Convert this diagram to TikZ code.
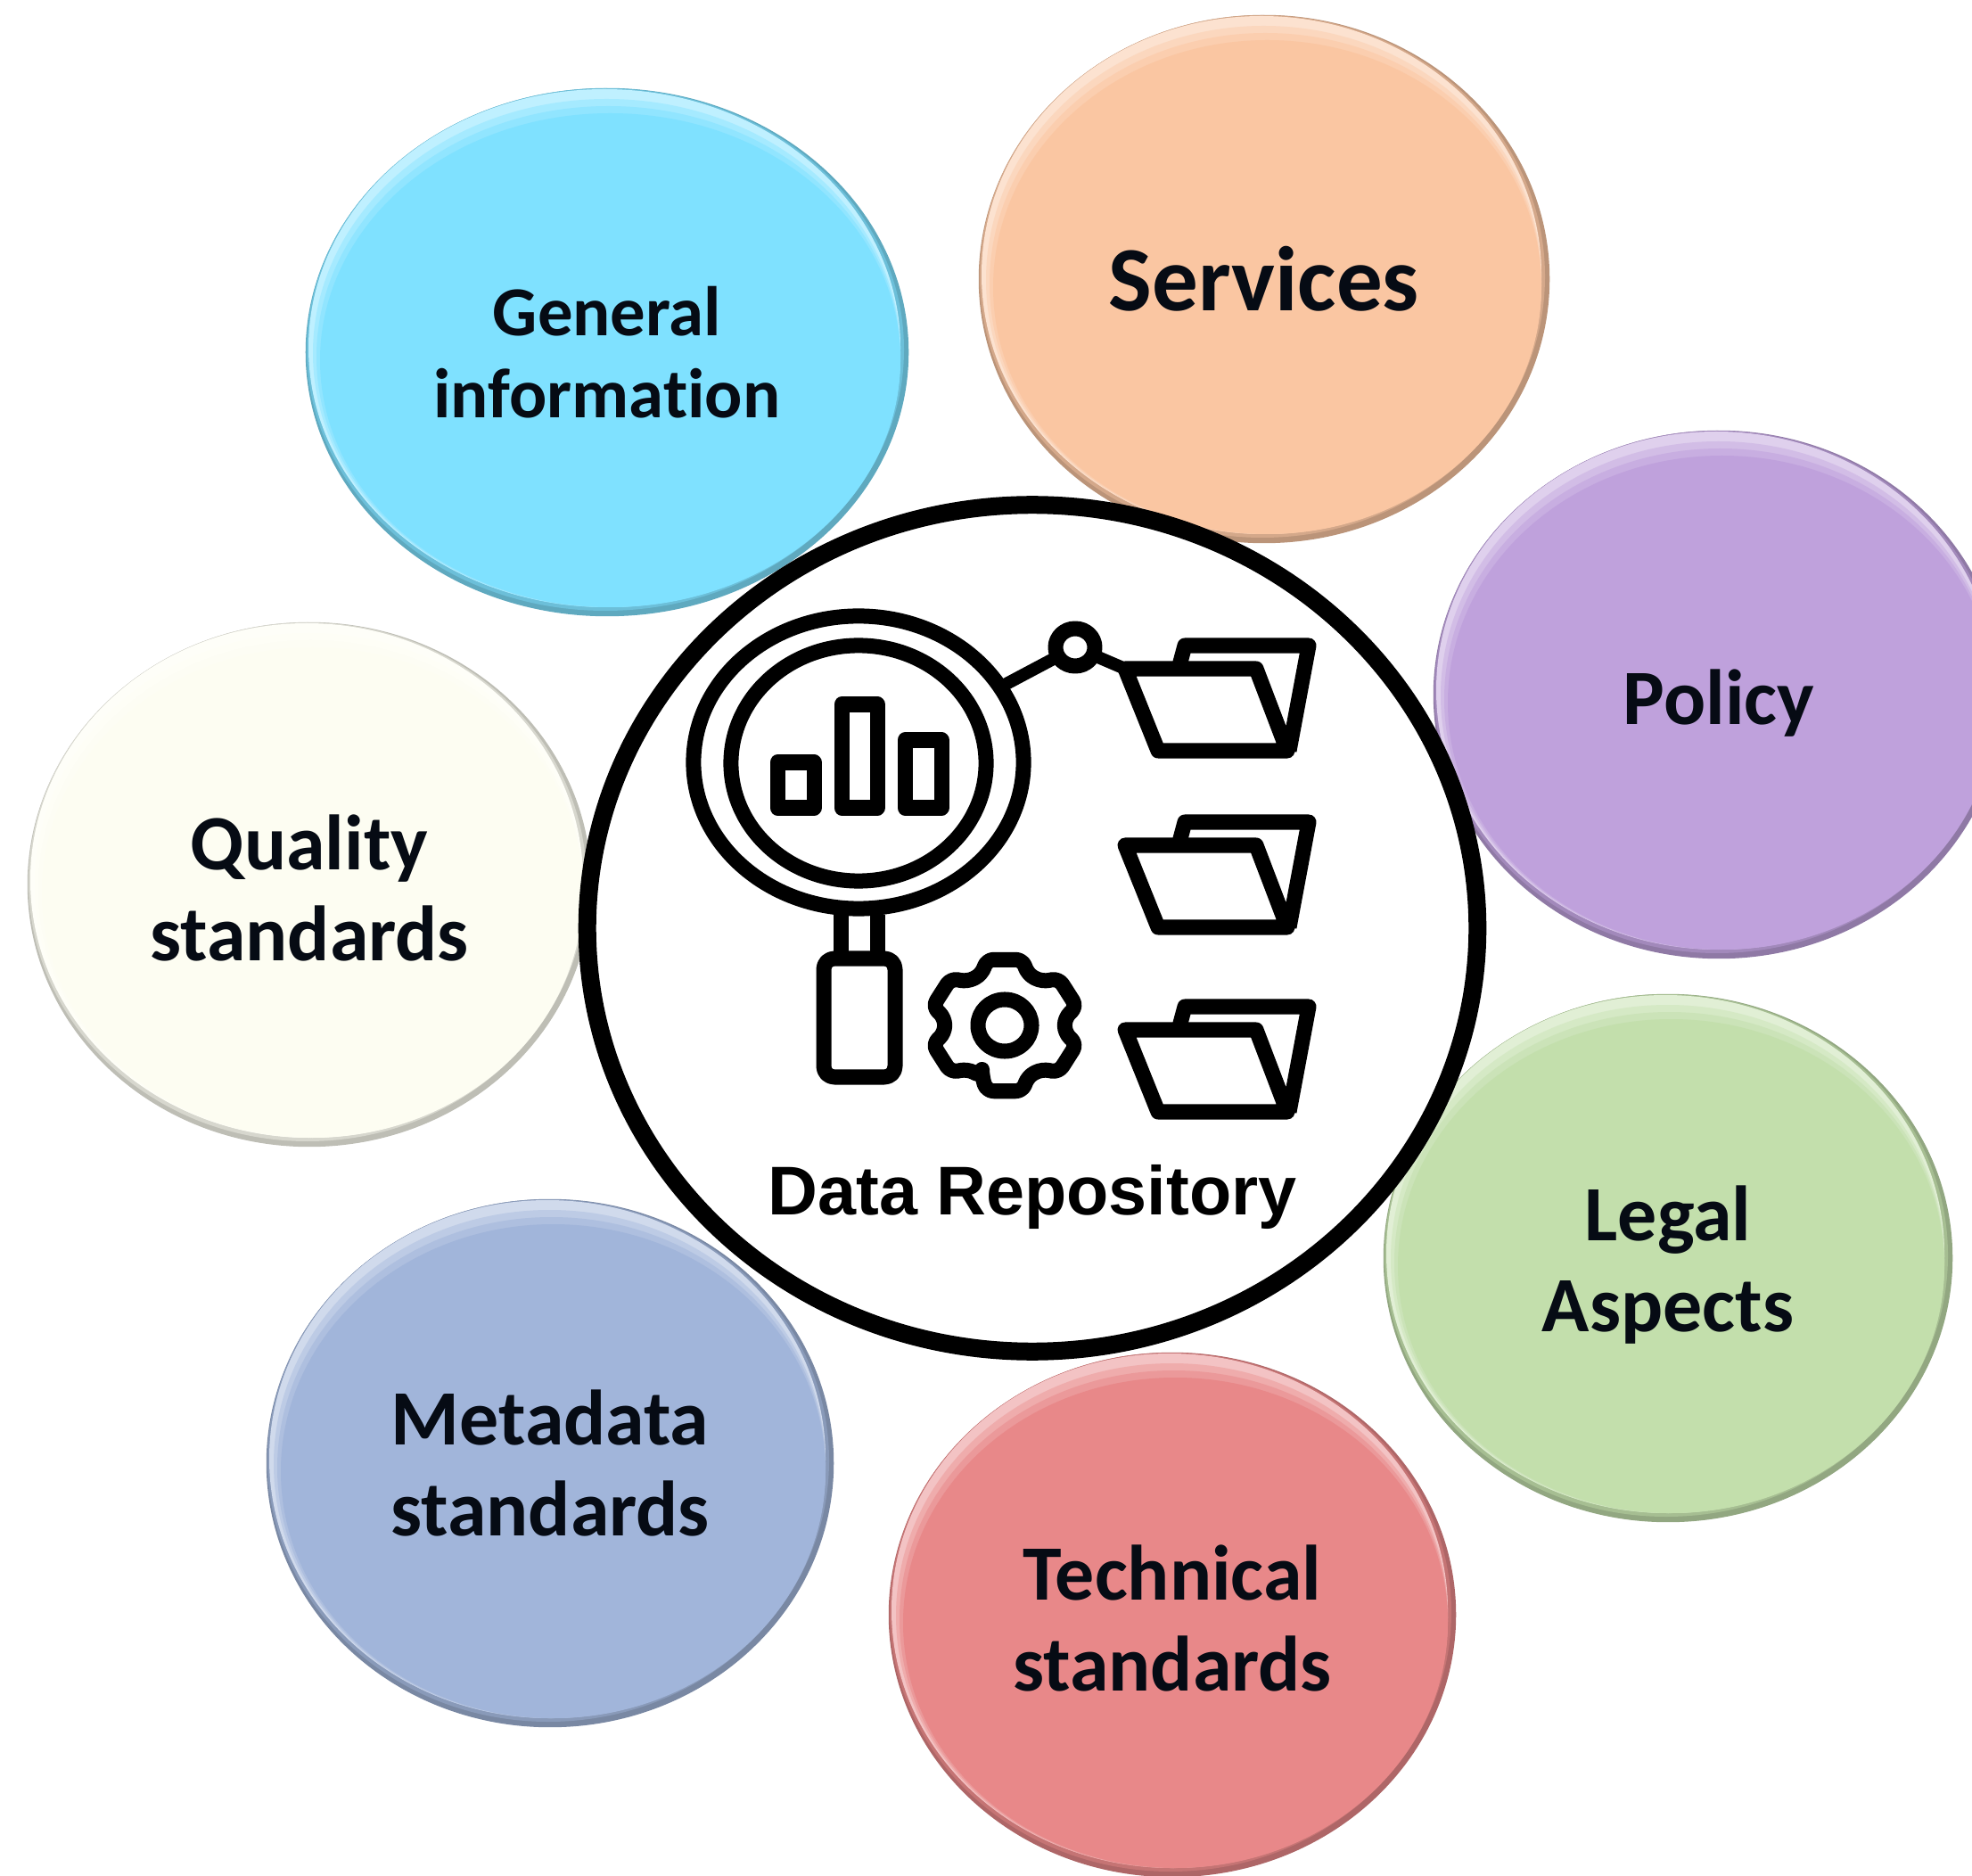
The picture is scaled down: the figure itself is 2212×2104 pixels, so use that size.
\documentclass[tikz,border=0pt]{standalone}
\usepackage{xcolor}
\usepackage{fontspec}
\setmainfont{Carlito}[Ligatures=NoCommon]
\newfontfamily\repofont{Liberation Sans}
\usetikzlibrary{calc,positioning,shapes.geometric}

\definecolor{generalblue}{HTML}{7FE1FF}
\definecolor{servicesorange}{HTML}{FAC6A2}
\definecolor{policypurple}{HTML}{BFA1DC}
\definecolor{legalgreen}{HTML}{C3DFAC}
\definecolor{technicalred}{HTML}{E88889}
\definecolor{metadatablue}{HTML}{A1B5DA}
\definecolor{qualitycream}{HTML}{FDFDF2}
\definecolor{labelink}{HTML}{060B14}

\newcommand{\toprule}[1]{\rule{0pt}{#1pt}}

\tikzset{
    bubble/.style n args={3}{ellipse, inner sep=0pt, outer sep=0pt, align=center, text=labelink,
        font=\fontsize{25}{29}\selectfont\bfseries,
        minimum width=#2*0.02cm, minimum height=#3*0.02cm, fill=#1!75!black,
        path picture={
            \foreach \dx/\dy/\sx/\sy/\tone in {-2/-3/3/3/#1!85!black, -3/-5/6/6/#1!50, -0.5/1/8.5/11/#1!70, 1.5/5/10.5/15/#1!86, 3.5/9/12.5/19/#1}
                \path[fill=\tone] ($(path picture bounding box.center)+(\dx,\dy)$) ellipse [x radius={#2-\sx}, y radius={#3-\sy}];
        }},
    icon/.style={draw=black, line width=1.7mm, line join=round},
}

\begin{document}
\begin{tikzpicture}[x=0.01cm, y=-0.01cm]
    \useasboundingbox (0,0) rectangle (2212,2104);
    \clip (0,0) rectangle (2212,2104);

    \node (general)   [bubble={generalblue}{338}{296}, font=\fontsize{22.4}{26}\selectfont\bfseries] at (681,395) {General\\information};
    \node (services)  [bubble={servicesorange}{320}{296}, font=\fontsize{29.3}{36}\selectfont\bfseries] at (1418,313)  {Services};
    \node (policy)    [bubble={policypurple}{320}{296}]   at (1928,779)  {\toprule{23}Policy};
    \node (legal)     [bubble={legalgreen}{319}{296}]     at (1871,1411) {\toprule{22}Legal\\Aspects};
    \node (technical) [bubble={technicalred}{318}{294}]   at (1315,1811) {\toprule{20}Technical\\standards};
    \node (metadata)  [bubble={metadatablue}{318}{296}]   at (617,1641)  {Metadata\\standards};
    \node (quality)   [bubble={qualitycream}{316}{294}]   at (347,992)   {\toprule{20}Quality\\standards};

    \node (repo) [ellipse, draw=black, fill=white, line width=2mm, inner sep=0pt, minimum width=9.98cm, minimum height=9.49cm] at (1158,1041) {};
    \node (repolabel) at (1158,1342) {\repofont\bfseries\fontsize{22}{26}\selectfont Data Repository};

    % magnifier
    \node (lens)  [ellipse, icon, inner sep=0pt, outer sep=0pt, minimum width=3.7cm, minimum height=3.28cm] at (963,855) {};
    \node (glass) [ellipse, icon, inner sep=0pt, outer sep=0pt, minimum width=2.86cm, minimum height=2.64cm] at (963,856) {};
    \draw [icon] (872,855) rectangle (913,906);  % bars
    \draw [icon] (944,790) rectangle (984,906);
    \draw [icon] (1015,830) rectangle (1056,906);
    \draw [icon] (943,1026) -- (943,1075);
    \draw [icon] (984,1026) -- (984,1075);
    \draw [icon, rounded corners=1.2mm] (924,1075) rectangle (1004,1208);

    % gear
    \node (gearhub) [ellipse, icon, inner sep=0pt, minimum width=0.6cm, minimum height=0.58cm] at (1127,1150) {};
    \draw [icon, shift={(1127,1150)}, rounded corners=0.8mm] (112:68 and 62)
        \foreach \a in {90,30,...,-210} { -- (\a+22:68 and 62) -- (\a+14:84 and 76) -- (\a-14:84 and 76) -- (\a-22:68 and 62) } -- cycle;

    % folders
    \node (hub) [ellipse, icon, inner sep=0pt, outer sep=0pt, minimum width=0.44cm, minimum height=0.42cm] at (1206,726) {};
    \coordinate (fldtop) at (1262,750);
    \draw [icon, line width=1.4mm] (lens) -- (hub);
    \draw [icon, line width=1.4mm] (hub) -- (fldtop);
    \foreach \fy in {750,948,1155}
        \draw [icon, shift={(1262,\fy)}] (0,0) -- (147,0) -- (182,92) -- (37,92) -- cycle
            (60,0) -- (67,-26) -- (206,-26) -- (184,92);
\end{tikzpicture}
\end{document}
